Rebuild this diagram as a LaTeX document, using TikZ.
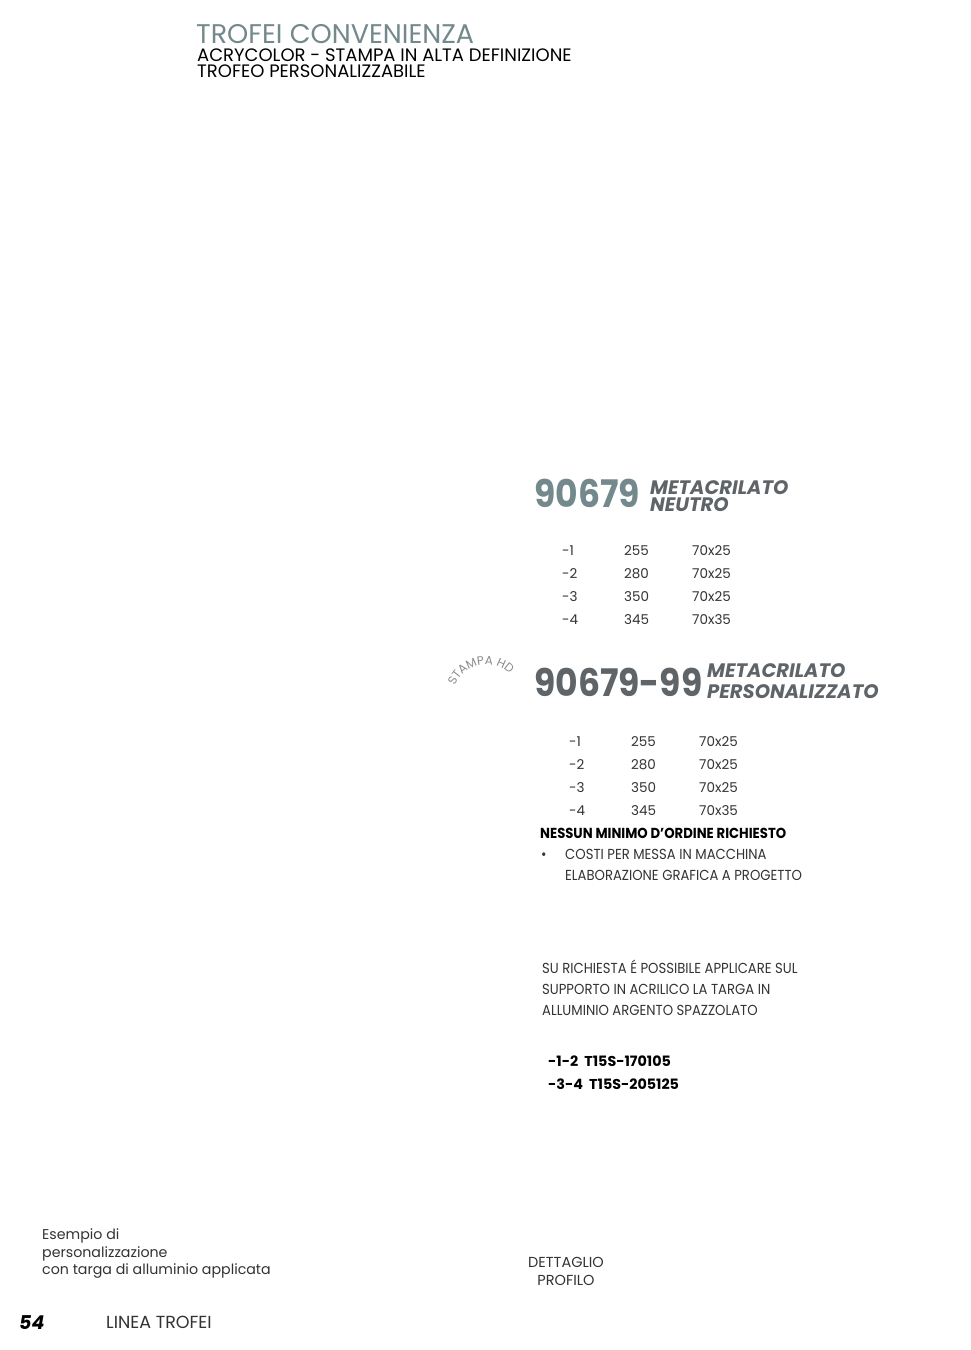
\documentclass[tikz,border=0pt]{standalone}
\usepackage{fontspec}
\setmainfont{Poppins}
\newfontfamily\tightfont[FakeStretch=0.91]{Poppins}
\newfontfamily\codefont[FakeStretch=0.91]{Poppins}
\usetikzlibrary{decorations.text}
\definecolor{headteal}{HTML}{74898C}
\definecolor{codegrey}{HTML}{5F6468}
\definecolor{bodygrey}{HTML}{333333}
\definecolor{stampgrey}{HTML}{8C8C8C}
\tikzset{
  txt/.style={anchor=base west, inner sep=0pt, text=bodygrey, font=\fontsize{13.5}{13.5}\selectfont},
  code/.style={anchor=base west, inner sep=0pt, font=\codefont\fontsize{38}{38}\selectfont\bfseries},
  kind/.style={anchor=base west, inner sep=0pt, text=codegrey, font=\fontsize{19.5}{19.5}\selectfont\bfseries\itshape},
  small/.style={txt, font=\tightfont\fontsize{14.5}{14.5}\selectfont}
}
\newcommand{\sizes}[2]{% x of first column, baseline of first row
  \foreach \suf/\len/\base [count=\i] in {-1/255/70x25, -2/280/70x25, -3/350/70x25, -4/345/70x35} {
    \node[txt] at (#1, #2+23*\i-23) {\suf};
    \node[txt] at (#1+62, #2+23*\i-23) {\len};
    \node[txt] at (#1+130, #2+23*\i-23) {\base};
  }
}
\begin{document}
\begin{tikzpicture}[x=1pt, y=-1pt]
  \useasboundingbox[fill=white] (0,0) rectangle (970,1350);
  % heading
  \node[anchor=base west, inner sep=0pt, text=headteal, font=\fontsize{27}{27}\selectfont] (title) at (196,43) {TROFEI CONVENIENZA};
  \node[txt, text=black, font=\fontsize{18}{18}\selectfont] (sub1) at (197,61) {ACRYCOLOR - STAMPA IN ALTA DEFINIZIONE};
  \node[txt, text=black, font=\fontsize{18}{18}\selectfont] (sub2) at (197,77) {TROFEO PERSONALIZZABILE};

  % 90679
  \node[code, text=headteal] (neutro) at (534,507) {90679};
  \node[kind] (neutro1) at (650,494) {METACRILATO};
  \node[kind] (neutro2) at (650,511) {NEUTRO};
  \sizes{562}{555}

  % 90679-99
  \path[decorate, decoration={text along path, text color=stampgrey,
      text={|\fontsize{12}{12}\selectfont|STAMPA HD}}]
    (455,686) arc[start angle=-160, end angle=-25, radius=33];
  \node[code, text=codegrey] (pers) at (534,696) {90679-99};
  \node[kind] (pers1) at (707,677) {METACRILATO};
  \node[kind] (pers2) at (707,698) {PERSONALIZZATO};
  \sizes{569}{746}

  \node[small, text=black, font=\tightfont\fontsize{14.5}{14.5}\selectfont\bfseries] (minimo) at (540,838) {NESSUN MINIMO D’ORDINE RICHIESTO};
  \node[small] (bullet) at (541,859) {\textbullet};
  \node[small] (costi) at (565,859) {COSTI PER MESSA IN MACCHINA};
  \node[small] (grafica) at (565,880) {ELABORAZIONE GRAFICA A PROGETTO};

  \foreach \line [count=\i] in {SU RICHIESTA É POSSIBILE APPLICARE SUL, SUPPORTO IN ACRILICO LA TARGA IN, ALLUMINIO ARGENTO SPAZZOLATO}
    \node[small] (targa\i) at (542,952+21*\i) {\line};
  \node[txt, text=black, font=\fontsize{14.3}{14.3}\selectfont\bfseries] (t12) at (548,1066) {-1-2\ \ T15S-170105};
  \node[txt, text=black, font=\fontsize{14.3}{14.3}\selectfont\bfseries] (t34) at (548,1089) {-3-4\ \ T15S-205125};

  % captions
  \foreach \line [count=\i] in {Esempio di, personalizzazione, con targa di alluminio applicata}
    \node[txt, font=\fontsize{14.2}{14.2}\selectfont] (esempio\i) at (42,1222+17.5*\i) {\line};
  \node[anchor=base, inner sep=0pt, text=bodygrey, font=\fontsize{14.5}{14.5}\selectfont] (dett1) at (566,1267) {DETTAGLIO};
  \node[anchor=base, inner sep=0pt, text=bodygrey, font=\fontsize{14.5}{14.5}\selectfont] (dett2) at (566,1285) {PROFILO};

  % footer
  \node[txt, text=black, font=\fontsize{19}{19}\selectfont\bfseries\itshape] (page) at (19,1329) {54};
  \node[txt, font=\fontsize{17.5}{17.5}\selectfont] (linea) at (106,1328) {LINEA TROFEI};
\end{tikzpicture}
\end{document}
